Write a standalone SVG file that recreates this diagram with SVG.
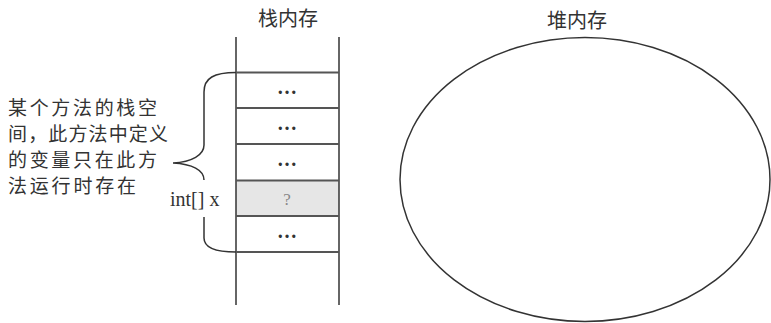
<svg xmlns="http://www.w3.org/2000/svg" width="771" height="323" viewBox="0 0 771 323">
<style>
.cjk{font-family:"Noto Sans CJK SC","Noto Sans",sans-serif;font-size:20px;fill:#333}
.lbl{font-size:19px}
.ser{font-family:"Liberation Serif",serif;fill:#333}
.ln{stroke:#333;stroke-width:1.5;fill:none}
.hl{stroke:#555;stroke-width:2;fill:none}
.dots{font-family:"Liberation Serif",serif;font-size:20px;font-weight:bold;fill:#333;text-anchor:middle}
</style>
<rect width="771" height="323" fill="#fff"/>
<g id="stack">
<text class="cjk" x="288" y="26" text-anchor="middle">栈内存</text>
<rect x="236" y="180.5" width="103" height="36" fill="#e6e6e6"/>
<line class="ln" x1="236" y1="37" x2="236" y2="305"/>
<line class="ln" x1="339" y1="37" x2="339" y2="305"/>
<line class="hl" x1="236" y1="72.5" x2="339" y2="72.5"/>
<line class="hl" x1="236" y1="108" x2="339" y2="108"/>
<line class="hl" x1="236" y1="144" x2="339" y2="144"/>
<line class="hl" x1="236" y1="180.5" x2="339" y2="180.5"/>
<line class="hl" x1="236" y1="216" x2="339" y2="216"/>
<line class="hl" x1="236" y1="252" x2="339" y2="252"/>
<text class="dots" x="287" y="94">…</text>
<text class="dots" x="287" y="130">…</text>
<text class="dots" x="287" y="166">…</text>
<text class="dots" x="287" y="238">…</text>
<text class="ser" x="287" y="205" font-size="17" text-anchor="middle" style="fill:#888">?</text>
</g>
<g id="heap">
<text class="cjk" x="577" y="28" text-anchor="middle">堆内存</text>
<ellipse class="ln" cx="585" cy="179.5" rx="185" ry="142"/>
</g>
<g id="label">
<text class="cjk lbl"><tspan x="8" y="115" textLength="149">某个方法的栈空</tspan><tspan x="8" y="141" textLength="160">间，此方法中定义</tspan><tspan x="8" y="167" textLength="149">的变量只在此方</tspan><tspan x="8" y="193" textLength="128">法运行时存在</tspan></text>
<text class="ser" x="170" y="206" font-size="20">int[] x</text>
</g>
<g id="connectors">
<path class="ln" d="M236,72.5 C214,72.5 204,78 204,92 L204,145 C204,155 192,162 173,163 C192,164 204,170 204,180 M204,217 L204,238 C204,247 214,252 236,252"/>
</g>
</svg>
